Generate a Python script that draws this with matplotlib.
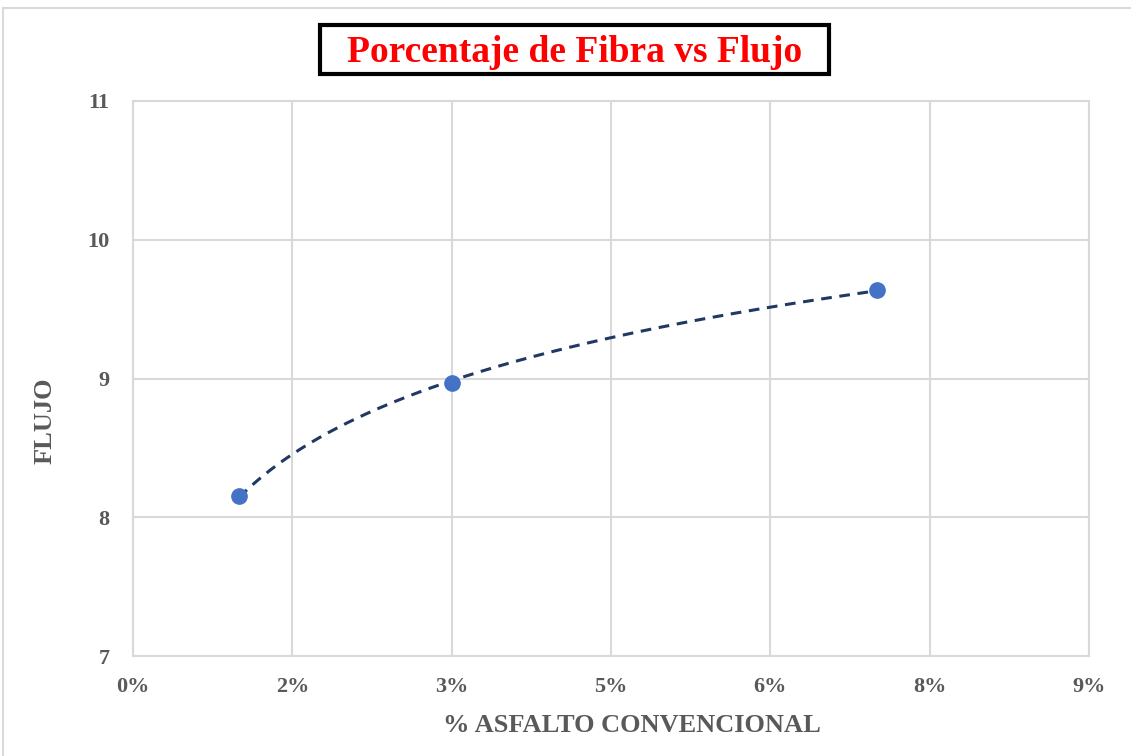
import numpy as np
import matplotlib
matplotlib.use("Agg")
import matplotlib.pyplot as plt
from matplotlib.patches import Rectangle
from matplotlib.ticker import FuncFormatter, MultipleLocator

# fibre percentage vs flow
fibra = [0.01, 0.03, 0.07]
flujo = [8.15, 8.97, 9.64]

titulo = "Porcentaje de Fibra vs Flujo"
eje_x = "% ASFALTO CONVENCIONAL"
eje_y = "FLUJO"

gris = "#595959"
rejilla = "#d9d9d9"
serif = ["Liberation Serif", "DejaVu Serif"]
W, H = 1131, 756

fig = plt.figure(figsize=(W / 100, H / 100), dpi=100)
ax = fig.add_axes([133 / W, 1 - 656 / H, 956 / W, 555 / H])

# outer chart border (light gray), cut off at right and bottom
fig.patches.append(Rectangle((3 / W, -0.1), 1.2, 1 - 8 / H + 0.1,
                             transform=fig.transFigure, fill=False,
                             edgecolor=rejilla, linewidth=1.5))

# logarithmic trendline
a, b = np.polyfit(np.log(fibra), flujo, 1)
xs = np.linspace(fibra[0], fibra[-1], 200)
ax.plot(xs, a * np.log(xs) + b, color="#203864", linestyle=(0, (3.5, 2.5)),
        linewidth=2.2, zorder=3)
ax.plot(fibra, flujo, "o", color="#4472C4", markersize=11, zorder=4)

ax.set_xlim(0, 0.09)
ax.set_ylim(7, 11)
ax.xaxis.set_major_locator(MultipleLocator(0.015))
ax.yaxis.set_major_locator(MultipleLocator(1))
ax.xaxis.set_major_formatter(FuncFormatter(lambda v, p: "{:.0f}%".format(round(v * 100 + 1e-9))))
ax.grid(True, color=rejilla, linewidth=1.5)
ax.set_axisbelow(True)
for s in ax.spines.values():
    s.set_color(rejilla)
    s.set_linewidth(1.5)
ax.tick_params(axis="x", length=0, pad=15, labelcolor=gris)
ax.tick_params(axis="y", length=0, pad=17, labelcolor=gris)
for lab in ax.get_xticklabels() + ax.get_yticklabels():
    lab.set_fontfamily(serif)
    lab.set_fontweight("bold")
    lab.set_fontsize(16)

fig.text(632 / W, 1 - 726 / H, eje_x, ha="center", va="center",
         fontfamily=serif, fontweight="bold", fontsize=19, color=gris)
fig.text(45 / W, 1 - 421 / H, eje_y, ha="center", va="center", rotation=90,
         fontfamily=serif, fontweight="bold", fontsize=19, color=gris)

# title with black frame
fig.patches.append(Rectangle((320 / W, 1 - 74 / H), 509 / W, 49 / H,
                             transform=fig.transFigure, facecolor="white",
                             edgecolor="black", linewidth=3))
fig.text(575 / W, 1 - 52 / H, titulo, ha="center", va="center", color="red",
         fontfamily=serif, fontweight="bold", fontsize=27)

fig.savefig("out.png", dpi=100)
